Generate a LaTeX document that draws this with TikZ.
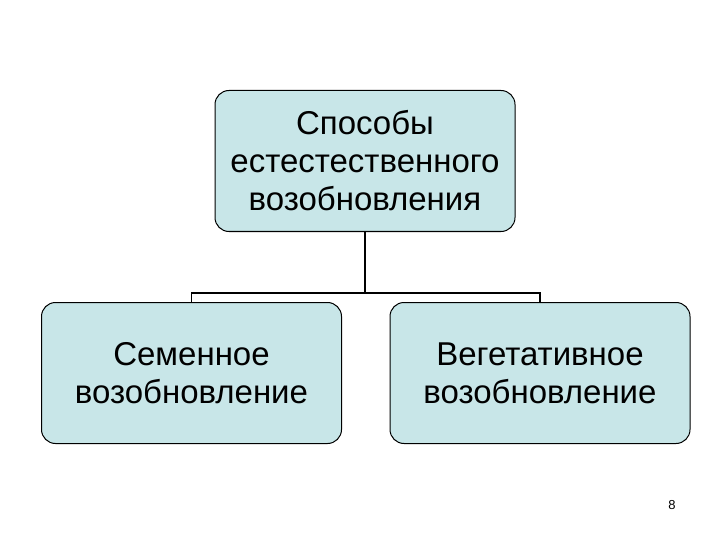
\documentclass[tikz,border=0pt]{standalone}
\usepackage{fontspec}
\setmainfont{Liberation Sans}
\definecolor{boxfill}{HTML}{C8E6E8}
\begin{document}
\begin{tikzpicture}[x=1pt,y=-1pt,
  box/.style={draw=black,line width=1pt,fill=boxfill,rounded corners=14pt,minimum width=300pt,minimum height=141pt,align=center,font=\fontsize{33}{38}\selectfont,inner sep=0pt},
  conn/.style={draw=black,line width=1.5pt}]
\useasboundingbox (0,0) rectangle (720,540);
\node[box] (top) at (365,161) {Способы\\естестественного\\возобновления};
\node[box] (l) at (191.5,373) {Семенное\\возобновление};
\node[box] (r) at (540,373) {Вегетативное\\возобновление};
\coordinate (j) at (365,293);
\draw[conn] (top.south) -- (j);
\draw[conn] (l.north) -- (l.north |- j) -- (r.north |- j) -- (r.north);
\node[font=\fontsize{13}{15}\selectfont] (p) at (672,505) {8};
\end{tikzpicture}
\end{document}
